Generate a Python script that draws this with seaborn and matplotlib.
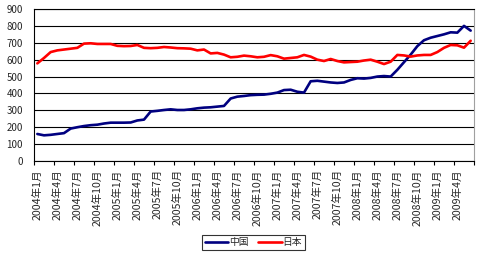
import matplotlib
matplotlib.use("Agg")
import matplotlib.pyplot as plt
import seaborn as sns
import pandas as pd
import numpy as np
from matplotlib.lines import Line2D

months = [f"{y}年{m}月" for y in range(2004, 2010) for m in range(1, 13)][:66]

china = [160, 152, 155, 160, 165, 192, 200, 207, 212, 215, 222, 227,
         227, 227, 228, 240, 245, 293, 297, 302, 306, 302, 302, 306,
         312, 316, 318, 322, 326, 370, 381, 385, 390, 392, 393, 398,
         405, 420, 422, 410, 405, 472, 475, 470, 465, 462, 465, 480,
         490, 488, 492, 500, 503, 500, 540, 585, 630, 680, 715, 730,
         740, 750, 762, 760, 800, 772]

japan = [578, 610, 645, 655, 660, 665, 670, 695, 697, 693, 693, 693,
         682, 680, 681, 687, 670, 668, 670, 675, 672, 668, 667, 665,
         655, 660, 637, 640, 630, 614, 617, 624, 620, 614, 617, 627,
         620, 606, 610, 614, 628, 618, 600, 592, 604, 592, 584, 586,
         588, 595, 600, 588, 574, 588, 628, 625, 618, 625, 628, 628,
         645, 670, 687, 685, 671, 712]

series_names = ["中国", "日本"]
series_colors = ["#000080", "#FF0000"]
yticks = [0, 100, 200, 300, 400, 500, 600, 700, 800, 900]

df = pd.DataFrame({
    "idx": list(range(len(months))) * 2,
    "value": china + japan,
    "country": [series_names[0]] * len(china) + [series_names[1]] * len(japan),
})

sns.set_style("white")
plt.rcParams["font.family"] = ["Noto Sans CJK JP", "DejaVu Sans"]

fig = plt.figure(figsize=(4.8, 2.57), dpi=100)
ax = fig.add_axes([34 / 480, 1 - 161 / 257, 440 / 480, 152 / 257])

sns.lineplot(data=df, x="idx", y="value", hue="country",
             palette=dict(zip(series_names, series_colors)),
             linewidth=1.9, ax=ax, legend=False)

ax.set_xlim(-0.5, len(months) - 0.5)
ax.set_ylim(0, 900)
ax.set_yticks(yticks)
ax.set_yticklabels([str(v) for v in yticks], fontsize=7)
ax.grid(axis="y", color="black", linewidth=0.8)
ax.set_axisbelow(True)

# tick marks at category boundaries, labels at category centers
ax.set_xticks(np.arange(-0.5, len(months), 3))
ax.set_xticklabels([])
ax.set_xticks(np.arange(0, len(months), 3), minor=True)
ax.set_xticklabels(months[::3], minor=True, rotation=90, fontsize=7.6)
ax.tick_params(axis="x", which="major", length=3, width=0.8, color="black", direction="out", bottom=True)
ax.tick_params(axis="x", which="minor", length=0, pad=6)
ax.tick_params(axis="y", length=0, pad=8)

ax.set_xlabel("")
ax.set_ylabel("")
for side in ["left", "bottom", "top"]:
    ax.spines[side].set_color("black")
    ax.spines[side].set_linewidth(0.8)
ax.spines["right"].set_color("#a0a0a0")
ax.spines["right"].set_linewidth(0.8)

handles = [Line2D([], [], color=c, linewidth=1.9) for c in series_colors]
leg = fig.legend(handles, series_names, loc="center",
                 bbox_to_anchor=(253.5 / 480, 1 - 242.5 / 257),
                 ncol=2, fontsize=7, frameon=True, fancybox=False,
                 handlelength=2.4, handletextpad=0.1, columnspacing=1.0,
                 borderpad=0.3, borderaxespad=0)
leg.get_frame().set_edgecolor("black")
leg.get_frame().set_linewidth(0.8)

fig.savefig("out.png", dpi=100)
